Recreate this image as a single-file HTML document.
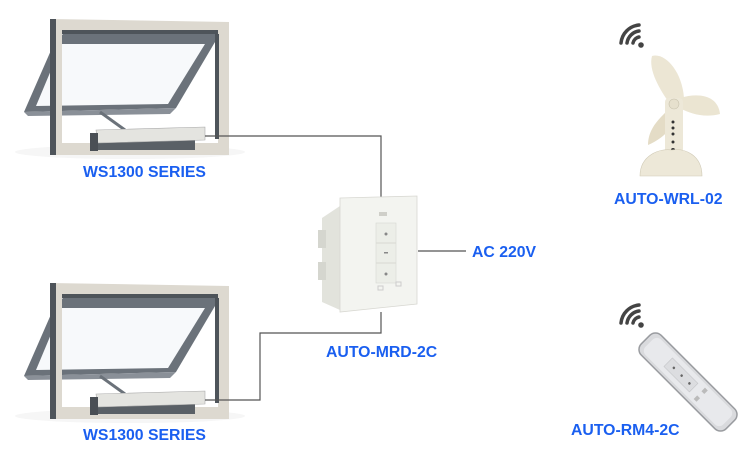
<!DOCTYPE html>
<html><head><style>
body{margin:0;background:#fff;}
svg{display:block}
text{font-family:"Liberation Sans",sans-serif;font-weight:bold;fill:#1a5ff0;font-size:15.8px}
</style></head><body>
<svg width="750" height="450" viewBox="0 0 750 450" xmlns="http://www.w3.org/2000/svg">
<defs>
<g id="win">
  <ellipse cx="130" cy="152" rx="115" ry="7" fill="#f6f6f6"/>
  <!-- sash -->
  <polygon points="52,48 66,30 218,30 215,42 176,108 24,112" fill="#6b727a"/>
  <polygon points="62,44 205,44 168,104 36,106" fill="#f7f9fb"/>
  <polygon points="24,112 176,108 170,114 28,116" fill="#8a9098"/>
  <!-- frame -->
  <path d="M50,19 L229,22 L229,155 L50,155 Z M62,30 L218,32 L218,143 L62,143 Z" fill="#ddd9d0" fill-rule="evenodd"/>
  <rect x="50" y="19" width="6" height="136" fill="#4e545a"/>
  <rect x="62" y="30" width="156" height="4" fill="#4e545a"/>
  <rect x="215" y="34" width="4" height="105" fill="#4e545a"/>
  <!-- arm -->
  <line x1="100" y1="112" x2="125" y2="130" stroke="#6b727a" stroke-width="3"/>
  <!-- actuator -->
  <rect x="90" y="140" width="105" height="10" fill="#5a6066"/>
  <polygon points="96,130 205,127 205,140 98,143" fill="#e4e4e0" stroke="#aaa" stroke-width="0.6"/>
  <rect x="90" y="133" width="8" height="18" fill="#4a4f55"/>
</g>
<g id="wifi" fill="none" stroke="#444" stroke-width="3.5" stroke-linecap="round">
  <circle cx="0" cy="0" r="2.8" fill="#444" stroke="none"/>
  <path d="M-8,-2 A8,8 0 0 1 -2,-8"/>
  <path d="M-14,-2 A14,14 0 0 1 -2,-14"/>
  <path d="M-20,-2 A20,20 0 0 1 -2,-20"/>
</g>
</defs>
<use href="#win"/>
<use href="#win" transform="translate(0,264)"/>
<!-- wires -->
<polyline points="205,136 381,136 381,197" fill="none" stroke="#555" stroke-width="1.2"/>
<polyline points="205,400 260,400 260,333 381,333 381,312" fill="none" stroke="#555" stroke-width="1.2"/>
<line x1="418" y1="251" x2="466" y2="251" stroke="#555" stroke-width="1.2"/>
<!-- switch -->
<polygon points="322,218 340,206 340,310 322,302" fill="#e2e3dc"/>
<rect x="318" y="230" width="8" height="18" fill="#d5d6cf"/>
<rect x="318" y="262" width="8" height="18" fill="#d5d6cf"/>
<polygon points="340,198 417,196 417,304 340,312" fill="#f3f4f0" stroke="#d8d8d2" stroke-width="0.8"/>
<rect x="379" y="212" width="8" height="4" fill="#cfcfc9"/>
<rect x="376" y="223" width="20" height="60" fill="#eceee8" stroke="#d8d8d2" stroke-width="0.6"/>
<line x1="376" y1="243" x2="396" y2="243" stroke="#d8d8d2"/>
<line x1="376" y1="263" x2="396" y2="263" stroke="#d8d8d2"/>
<circle cx="386" cy="234" r="1.5" fill="#888"/>
<rect x="384" y="252" width="4" height="1.5" fill="#888"/>
<circle cx="386" cy="274" r="1.5" fill="#888"/>
<rect x="378" y="286" width="5" height="4" fill="none" stroke="#ccc"/>
<rect x="396" y="282" width="5" height="4" fill="none" stroke="#ccc"/>
<!-- wind sensor -->
<use href="#wifi" transform="translate(641,45)"/>
<path d="M652,56 C664,52 682,70 684,98 L670,104 C660,90 648,70 652,56Z" fill="#ece6d4"/>
<path d="M680,98 C700,92 718,96 720,114 C705,118 690,114 680,108Z" fill="#ebe5d2"/>
<path d="M670,108 C660,118 648,128 648,145 C660,140 672,130 676,118Z" fill="#e4dcc6"/>
<rect x="665" y="98" width="18" height="62" rx="4" fill="#ede8d8"/>
<circle cx="674" cy="104" r="5" fill="#e6e0cd" stroke="#c8c2ae" stroke-width="0.6"/>
<circle cx="673" cy="122" r="1.5" fill="#333"/><circle cx="673" cy="128" r="1.5" fill="#333"/><circle cx="673" cy="134" r="1.5" fill="#333"/><circle cx="673" cy="142" r="1.5" fill="#333"/><circle cx="673" cy="150" r="2" fill="#333"/>
<path d="M640,176 C640,155 660,148 672,150 C685,148 702,155 702,176Z" fill="#ede8d8" stroke="#d0cab6" stroke-width="0.6"/>
<!-- remote -->
<use href="#wifi" transform="translate(641,325)"/>
<g transform="translate(688,382) rotate(-45)">
  <rect x="-14" y="-60" width="28" height="120" rx="8" fill="#d9dadd" stroke="#9a9ca0" stroke-width="1.5"/>
  <rect x="-11" y="-55" width="22" height="110" rx="6" fill="#e8e9ec"/>
  <rect x="-6" y="-28" width="12" height="36" fill="#dcdde0" stroke="#c4c5c8" stroke-width="0.6"/>
  <circle cx="0" cy="-20" r="1.3" fill="#666"/><circle cx="0" cy="-9" r="1.3" fill="#666"/><circle cx="0" cy="2" r="1.3" fill="#666"/>
  <rect x="-8" y="16" width="5" height="4" fill="#bbb"/><rect x="3" y="16" width="5" height="4" fill="#bbb"/>
</g>
<!-- labels -->
<text x="83" y="177">WS1300 SERIES</text>
<text x="83" y="440">WS1300 SERIES</text>
<text x="326" y="357">AUTO-MRD-2C</text>
<text x="472" y="257">AC 220V</text>
<text x="614" y="204">AUTO-WRL-02</text>
<text x="571" y="435">AUTO-RM4-2C</text>
</svg>
</body></html>
